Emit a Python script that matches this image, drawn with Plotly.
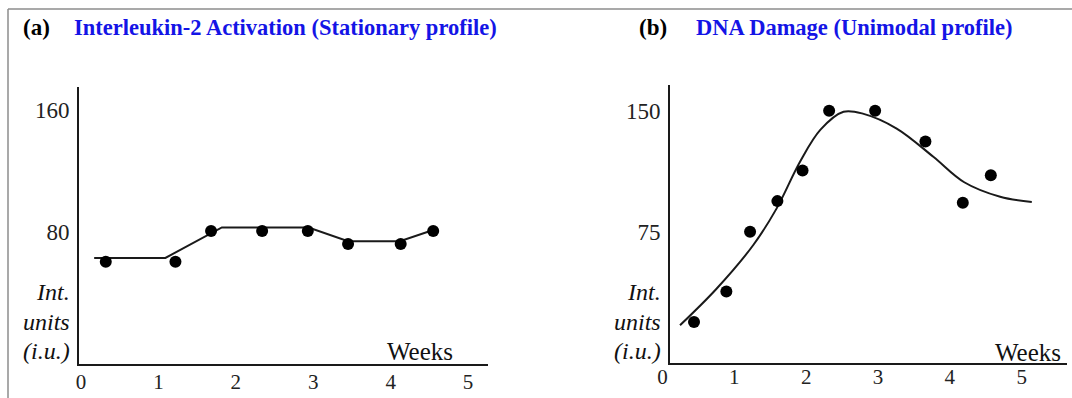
import plotly.graph_objects as go

W, H = 1072, 398


def px(x):
    return x / W


def py(y):
    return 1 - y / H


# ---------------- data ----------------
x_ticks = [0, 1, 2, 3, 4, 5]
x_tick_labels = ["0", "1", "2", "3", "4", "5"]

# (a) Interleukin-2 activation
il2_weeks = [0.32, 1.22, 1.68, 2.34, 2.93, 3.45, 4.13, 4.55]
il2_values = [60.5, 60.5, 80.7, 80.7, 80.7, 72.1, 72.1, 80.7]
il2_fit_weeks = [0.17, 1.09, 1.82, 2.94, 3.45, 4.12, 4.55]
il2_fit_values = [63, 63, 83, 83, 74, 74, 81.3]
il2_y_ticks = [80, 160]
il2_y_labels = ["80", "160"]

# (b) DNA damage
dna_weeks = [0.44, 0.89, 1.22, 1.60, 1.95, 2.32, 2.96, 3.66, 4.18, 4.57]
dna_values = [19, 38, 75, 94, 113, 150, 150, 131, 93, 110]
dna_fit_weeks = [0.245, 0.75, 1.265, 1.59, 1.915, 2.20, 2.52, 2.80,
                 3.26, 3.77, 4.20, 4.70, 5.14]
dna_fit_values = [17, 39.5, 66.8, 89.5, 118.4, 138.3, 149.4, 148.1,
                  139, 121.5, 105.7, 96.7, 93.4]
dna_y_ticks = [75, 150]
dna_y_labels = ["75", "150"]

title_a = "Interleukin-2 Activation (Stationary profile)"
title_b = "DNA Damage (Unimodal profile)"

# ---------------- styles ----------------
SERIF = "Liberation Serif"
INK = "#1a1a1a"
BLUE = "#1414e6"

fig = go.Figure()

fig.add_trace(go.Scatter(x=il2_fit_weeks, y=il2_fit_values, mode="lines",
                         line=dict(color=INK, width=2), xaxis="x", yaxis="y",
                         hoverinfo="skip", showlegend=False))
fig.add_trace(go.Scatter(x=il2_weeks, y=il2_values, mode="markers",
                         marker=dict(color="#000000", size=12), xaxis="x", yaxis="y",
                         showlegend=False))
fig.add_trace(go.Scatter(x=dna_fit_weeks, y=dna_fit_values, mode="lines",
                         line=dict(color=INK, width=2, shape="spline", smoothing=1.0),
                         xaxis="x2", yaxis="y2", hoverinfo="skip", showlegend=False))
fig.add_trace(go.Scatter(x=dna_weeks, y=dna_values, mode="markers",
                         marker=dict(color="#000000", size=12), xaxis="x2", yaxis="y2",
                         showlegend=False))

tickfont_x = dict(family=SERIF, size=21, color="#222222")
tickfont_y = dict(family=SERIF, size=23, color="#222222")

common_x = dict(tickvals=x_ticks, ticktext=x_tick_labels, showgrid=False, zeroline=False,
                ticks="", tickfont=tickfont_x, ticklabelstandoff=-2, fixedrange=True,
                automargin=False)
common_y = dict(showgrid=False, zeroline=False, ticks="", tickfont=tickfont_y,
                ticklabelstandoff=3, showline=True, linecolor=INK, linewidth=2,
                fixedrange=True, automargin=False)

fig.update_layout(
    template="none",
    width=W, height=H, autosize=False,
    margin=dict(l=0, r=0, t=0, b=0, pad=0),
    paper_bgcolor="white", plot_bgcolor="white",
    showlegend=False,
    xaxis=dict(domain=[px(79), px(488)], range=[-0.026, 5.258], anchor="y",
               showline=True, linecolor=INK, linewidth=2, **common_x),
    yaxis=dict(domain=[py(364), py(87)], range=[-6.56, 175.1], anchor="x",
               tickvals=il2_y_ticks, ticktext=il2_y_labels, **common_y),
    xaxis2=dict(domain=[px(662.4), px(1067)], range=[0, 5.63], anchor="y2",
                showline=False, **common_x),
    yaxis2=dict(domain=[py(364), py(85)], range=[-7.0, 166.0], anchor="free",
                position=px(669), tickvals=dna_y_ticks, ticktext=dna_y_labels,
                **common_y),
)

shapes = [
    # outer frame (top and left)
    dict(type="line", xref="paper", yref="paper", x0=px(8), x1=1, y0=py(9), y1=py(9),
         line=dict(color="#8c8c8c", width=1.5)),
    dict(type="line", xref="paper", yref="paper", x0=px(8), x1=px(8), y0=py(9), y1=0,
         line=dict(color="#8c8c8c", width=1.5)),
    # x axis line of panel (b)
    dict(type="line", xref="paper", yref="paper", x0=px(668), x1=px(1067),
         y0=py(364), y1=py(364), line=dict(color=INK, width=2)),
]
fig.update_layout(shapes=shapes)

ann = []


def add_text(text, x, y, size, xanchor="left", color="#111111"):
    ann.append(dict(text=text, x=px(x), y=py(y), xref="paper", yref="paper",
                    xanchor=xanchor, yanchor="middle", showarrow=False,
                    font=dict(family=SERIF, size=size, color=color)))


# titles
add_text("<b>(a)</b>", 21, 28, 23, color="#000000")
add_text("<b>" + title_a + "</b>", 72, 28, 22.5, color=BLUE)
add_text("<b>(b)</b>", 637, 28, 23, color="#000000")
add_text("<b>" + title_b + "</b>", 694, 28, 22.5, color=BLUE)

# y-axis titles
for xr in (72, 663):
    add_text("<i>Int.</i>", xr, 292, 24, xanchor="right")
    add_text("<i>units</i>", xr, 322, 24, xanchor="right")
    add_text("<i>(i.u.)</i>", xr, 351, 24, xanchor="right")

# x-axis titles
add_text("Weeks", 420, 351, 25, xanchor="center")
add_text("Weeks", 1028, 352, 25, xanchor="center")

fig.update_layout(annotations=ann)

fig.write_html("out.html")
